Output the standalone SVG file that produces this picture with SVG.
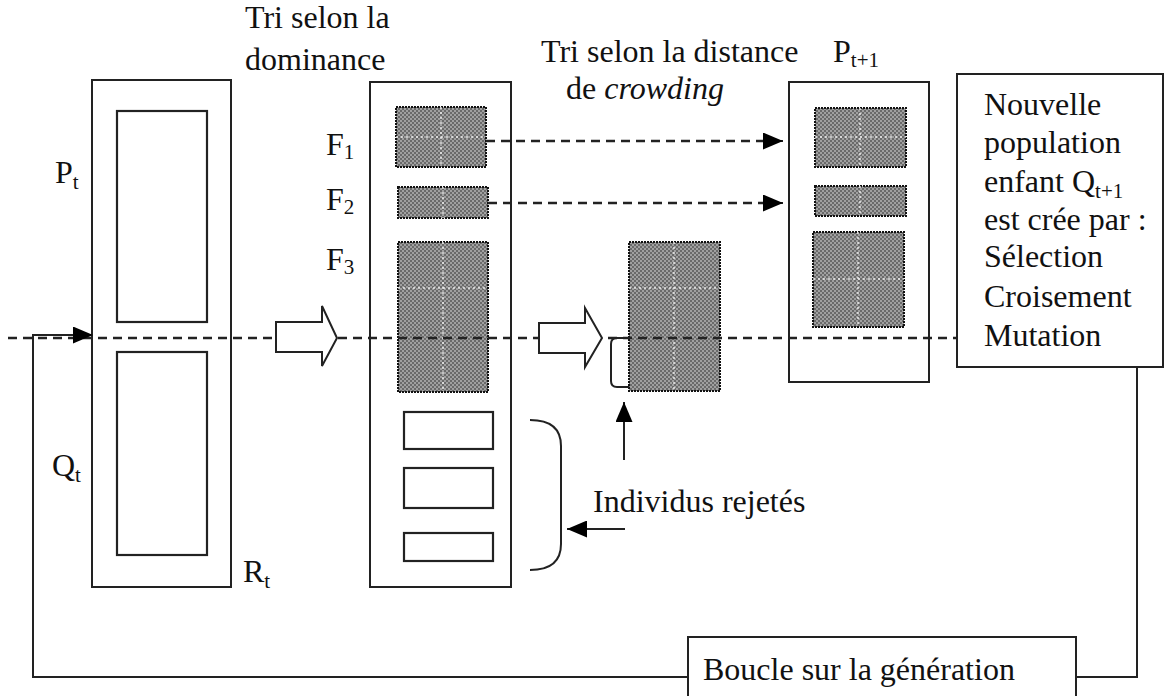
<svg xmlns="http://www.w3.org/2000/svg" width="1165" height="696" viewBox="0 0 1165 696">
<defs>
<pattern id="dither" width="4" height="4" patternUnits="userSpaceOnUse">
<rect width="4" height="4" fill="#6a6a6a"/>
<rect x="0" y="0" width="2" height="2" fill="#a0a0a0"/>
<rect x="2" y="2" width="2" height="2" fill="#a0a0a0"/>
</pattern>
<marker id="ahb" viewBox="0 0 10 10" refX="10" refY="5" markerWidth="20" markerHeight="17" markerUnits="userSpaceOnUse" orient="auto" preserveAspectRatio="none">
<path d="M0,0 L10,5 L0,10 z" fill="#000"/>
</marker>
</defs>
<style>
text{fill:#111;font-size:32px}
.sub{font-size:21px}
.box{fill:#fff;stroke:#222;stroke-width:2}
.wbox{fill:none;stroke:#222;stroke-width:2.2}
.gray{fill:url(#dither);stroke:#111;stroke-width:2;stroke-dasharray:2 1}
.grid{stroke:#fff;stroke-width:1.5;stroke-dasharray:2 3;opacity:0.8}
.dash{fill:none;stroke:#222;stroke-width:2.5;stroke-dasharray:9 6}
.line{fill:none;stroke:#222;stroke-width:2}
.hollow{fill:#fff;stroke:#222;stroke-width:2}
</style>
<rect width="1165" height="696" fill="#fff"/>
<g font-family="'Liberation Serif', 'DejaVu Serif', serif">

<g id="Rt">
<rect class="box" x="92" y="80" width="139" height="507"/>
<rect class="wbox" x="117" y="111" width="90" height="211"/>
<rect class="wbox" x="117" y="352" width="90" height="203"/>
<text x="55" y="183">P<tspan class="sub" dy="6">t</tspan></text>
<text x="52" y="476">Q<tspan class="sub" dy="6">t</tspan></text>
<text x="243" y="582">R<tspan class="sub" dy="6">t</tspan></text>
</g>

<g id="sorted">
<rect class="box" x="370" y="82" width="141" height="505"/>
<rect class="gray" x="396" y="107" width="90" height="60"/>
<rect class="gray" x="398" y="187" width="90" height="31"/>
<rect class="gray" x="398" y="242" width="90" height="150"/>
<path class="grid" d="M441,107 V167 M396,137 H486 M443,187 V218 M443,242 V392 M398,288 H488"/>
<rect class="wbox" x="404" y="412" width="89" height="37"/>
<rect class="wbox" x="404" y="468" width="89" height="40"/>
<rect class="wbox" x="404" y="533" width="89" height="28"/>
<text x="326" y="155">F<tspan class="sub" dy="4">1</tspan></text>
<text x="326" y="210">F<tspan class="sub" dy="4">2</tspan></text>
<text x="326" y="270">F<tspan class="sub" dy="4">3</tspan></text>
</g>

<g id="F3crowding">
<rect class="gray" x="629" y="242" width="91" height="149"/>
<path class="grid" d="M674,242 V391 M629,288 H720"/>
<path class="line" d="M629,338 H617 Q611,338 611,344 V381 Q611,387 617,387 H629"/>
</g>

<g id="Pt1">
<rect class="box" x="789" y="82" width="140" height="300"/>
<rect class="gray" x="815" y="108" width="91" height="59"/>
<rect class="gray" x="815" y="186" width="91" height="30"/>
<rect class="gray" x="813" y="232" width="91" height="95"/>
<path class="grid" d="M860,108 V167 M815,137 H906 M860,186 V216 M858,232 V327 M813,279 H904"/>
<text x="833" y="62">P<tspan class="sub" dy="5">t+1</tspan></text>
</g>

<g id="labels">
<text x="245" y="28">Tri selon la</text>
<text x="245" y="70">dominance</text>
<text x="541" y="62">Tri selon la distance</text>
<text x="566" y="99">de <tspan font-style="italic">crowding</tspan></text>
<text x="593" y="512">Individus rejetés</text>
</g>

<g id="newpop">
<rect class="box" x="957" y="74" width="206" height="293"/>
<text x="984" y="115">Nouvelle</text>
<text x="984" y="153">population</text>
<text x="984" y="192">enfant Q<tspan class="sub" dy="6">t+1</tspan></text>
<text x="984" y="230">est crée par :</text>
<text x="984" y="267">Sélection</text>
<text x="984" y="307">Croisement</text>
<text x="984" y="346">Mutation</text>
</g>

<g id="loop">
<rect class="box" x="688" y="637" width="388" height="70"/>
<text x="703" y="680">Boucle sur la génération</text>
</g>
</g>

<g id="connectors">
<path class="dash" d="M8,338 H957"/>
<path class="hollow" d="M276,322 H322 V306 L337,338 L322,366 V352 H276 z"/>
<path class="hollow" d="M539,323 H585 V308 L602,338 L585,367 V353 H539 z"/>
<path class="dash" d="M486,141 H770"/>
<path class="line" d="M768,141 H783" marker-end="url(#ahb)"/>
<path class="dash" d="M488,203 H770"/>
<path class="line" d="M768,203 H783" marker-end="url(#ahb)"/>
<path class="line" d="M1137,367 V677 H1076"/>
<path class="line" d="M688,677 H33 V335 H93" marker-end="url(#ahb)"/>
<path class="line" d="M624,460 V402" marker-end="url(#ahb)"/>
<path class="line" d="M625,529 H567" marker-end="url(#ahb)"/>
<path class="line" d="M530,420 Q561,420 561,446 V544 Q561,570 530,570"/>
</g>
</svg>
